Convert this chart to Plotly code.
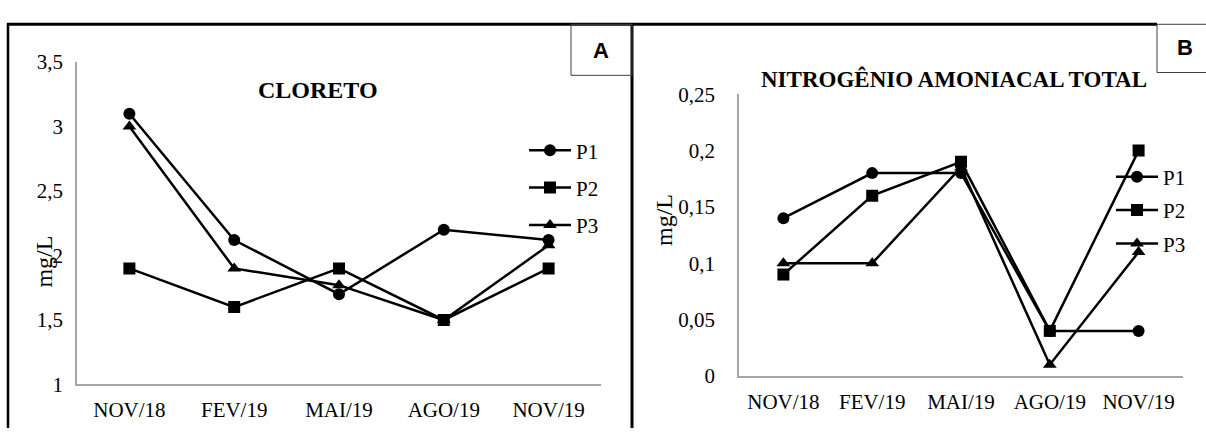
import plotly.graph_objects as go

# ---------------- data ----------------
months = ["NOV/18", "FEV/19", "MAI/19", "AGO/19", "NOV/19"]

cloreto_p1 = [3.10, 2.12, 1.70, 2.20, 2.12]
cloreto_p2 = [1.90, 1.60, 1.90, 1.50, 1.90]
cloreto_p3 = [3.00, 1.90, 1.77, 1.50, 2.08]

nitro_p1 = [0.14, 0.18, 0.18, 0.04, 0.04]
nitro_p2 = [0.09, 0.16, 0.19, 0.04, 0.20]
nitro_p3 = [0.10, 0.10, 0.185, 0.01, 0.11]

series_names = ["P1", "P2", "P3"]

a_tickvals = [1, 1.5, 2, 2.5, 3, 3.5]
a_ticktext = ["1", "1,5", "2", "2,5", "3", "3,5"]
b_tickvals = [0, 0.05, 0.1, 0.15, 0.2, 0.25]
b_ticktext = ["0", "0,05", "0,1", "0,15", "0,2", "0,25"]

title_a = "CLORETO"
title_b = "NITROGÊNIO AMONIACAL TOTAL"
y_title = "mg/L"

# ---------------- layout helpers ----------------
W, H = 1206, 439
def px(x):
    return x / W
def py(y):
    return 1 - y / H

SERIF = "Liberation Serif, Times New Roman, serif"
symbols = ["circle", "square", "triangle-up"]
msizes = [12, 12, 12]

fig = go.Figure()

for name, vals, sym, ms in zip(series_names, [cloreto_p1, cloreto_p2, cloreto_p3], symbols, msizes):
    fig.add_trace(go.Scatter(
        x=months, y=vals, name=name, mode="lines+markers",
        line=dict(color="black", width=2.5),
        marker=dict(symbol=sym, size=ms, color="black"),
        xaxis="x", yaxis="y", legend="legend", legendgroup="a" + name,
    ))

for name, vals, sym, ms in zip(series_names, [nitro_p1, nitro_p2, nitro_p3], symbols, msizes):
    fig.add_trace(go.Scatter(
        x=months, y=vals, name=name, mode="lines+markers",
        line=dict(color="black", width=2.5),
        marker=dict(symbol=sym, size=ms, color="black"),
        xaxis="x2", yaxis="y2", legend="legend2", legendgroup="b" + name,
    ))

axis_common = dict(showgrid=False, zeroline=False, showline=True,
                   linecolor="#a6a6a6", linewidth=1.5, ticks="",
                   tickfont=dict(family=SERIF, size=21, color="black"))

fig.update_layout(
    width=W, height=H,
    margin=dict(l=0, r=0, t=0, b=0),
    paper_bgcolor="white", plot_bgcolor="white",
    showlegend=True,
    xaxis=dict(domain=[px(77), px(601)], type="category", range=[-0.5, 4.5],
               anchor="y", ticklabelstandoff=6, **axis_common),
    yaxis=dict(domain=[py(394), py(53)], range=[1, 3.5], anchor="x",
               tickvals=a_tickvals, ticktext=a_ticktext, ticklabelstandoff=8,
               **axis_common),
    xaxis2=dict(domain=[px(739), px(1183)], type="category", range=[-0.5, 4.5],
                anchor="y2", ticklabelstandoff=6, **axis_common),
    yaxis2=dict(domain=[py(385), py(87)], range=[0, 0.25], anchor="x2",
                tickvals=b_tickvals, ticktext=b_ticktext, ticklabelstandoff=18,
                **axis_common),
    legend=dict(x=px(524), y=py(125), xanchor="left", yanchor="top",
                font=dict(family=SERIF, size=21, color="black"),
                bgcolor="rgba(0,0,0,0)", tracegroupgap=7, itemwidth=42,
                traceorder="grouped"),
    legend2=dict(x=px(1111), y=py(153), xanchor="left", yanchor="top",
                 font=dict(family=SERIF, size=21, color="black"),
                 bgcolor="rgba(0,0,0,0)", tracegroupgap=3, itemwidth=42,
                 traceorder="grouped"),
)

annotations = [
    dict(text="<b>%s</b>" % title_a, x=px(318), y=py(82), xref="paper", yref="paper",
         showarrow=False, font=dict(family=SERIF, size=24, color="black"),
         xanchor="center", yanchor="middle"),
    dict(text="<b>%s</b>" % title_b, x=px(954), y=py(71), xref="paper", yref="paper",
         showarrow=False, font=dict(family=SERIF, size=23, color="black"),
         xanchor="center", yanchor="middle"),
    dict(text=y_title, x=px(44), y=py(264), xref="paper", yref="paper",
         showarrow=False, textangle=-90, font=dict(family=SERIF, size=24, color="black"),
         xanchor="center", yanchor="middle"),
    dict(text=y_title, x=px(664), y=py(220), xref="paper", yref="paper",
         showarrow=False, textangle=-90, font=dict(family=SERIF, size=24, color="black"),
         xanchor="center", yanchor="middle"),
    dict(text="<b>A</b>", x=px(601), y=py(41), xref="paper", yref="paper",
         showarrow=False, font=dict(family="Liberation Sans, Arial, sans-serif", size=22, color="black"),
         xanchor="center", yanchor="middle"),
    dict(text="<b>B</b>", x=px(1185), y=py(38), xref="paper", yref="paper",
         showarrow=False, font=dict(family="Liberation Sans, Arial, sans-serif", size=22, color="black"),
         xanchor="center", yanchor="middle"),
]
fig.update_layout(annotations=annotations)

P = dict(xref="paper", yref="paper")
shapes = [
    # outer frame (top, left) and panel divider
    dict(type="line", x0=px(7), x1=px(1157), y0=py(13), y1=py(13), line=dict(color="black", width=3), **P),
    dict(type="line", x0=px(8), x1=px(8), y0=py(12), y1=py(440), line=dict(color="black", width=2.5), **P),
    dict(type="line", x0=px(632), x1=px(632), y0=py(12), y1=py(440), line=dict(color="black", width=3), **P),
    # box A
    dict(type="rect", x0=px(571), x1=px(632), y0=py(67), y1=py(13), line=dict(color="#404040", width=1), **P),
    # box B
    dict(type="rect", x0=px(1157), x1=px(1210), y0=py(64), y1=py(13), line=dict(color="#404040", width=1), **P),
]
fig.update_layout(shapes=shapes)

fig.write_html("out.html")
